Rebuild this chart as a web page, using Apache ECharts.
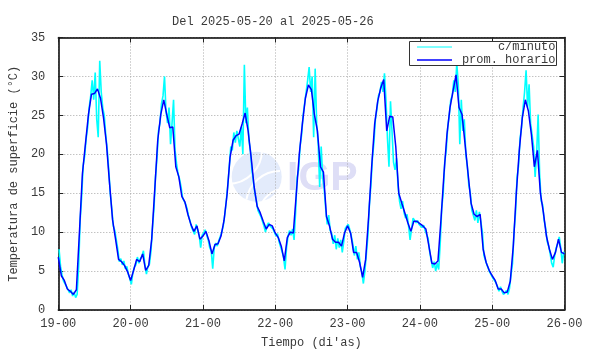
<!DOCTYPE html>
<html lang='es'>

  <head>
    <meta charset='utf-8'>
    <title>Temperatura de superficie</title>
    <style>
      html, body { margin: 0; padding: 0; background: #fff; }
    </style>
  </head>

  <body>
    <div id="main" style="width:590px;height:354px;"></div>

    <script src="https://cdn.jsdelivr.net/npm/echarts@6/dist/echarts.min.js"></script>
    <script>
      // etiquetas del eje x (cada 24 h)
      var tickLabels = ['19-00', '20-00', '21-00', '22-00', '23-00', '24-00', '25-00', '26-00'];

      // promedio horario, una lista por dia (horas 0..23)
      var prom19 = [6.8, 4.4, 3.8, 2.7, 2.4, 2.0, 2.6, 9.9, 17.5, 21.3, 25.1, 27.7, 27.8, 28.4, 27.2, 24.7, 21.3, 16.3, 11.6, 9.1, 6.5, 6.2, 5.7, 4.9];
      var prom20 = [3.8, 5.1, 6.5, 6.2, 7.2, 5.1, 5.7, 9.1, 15.4, 21.8, 25.1, 27.0, 25.1, 23.4, 23.5, 18.4, 17.1, 14.6, 13.9, 12.3, 11.0, 10.1, 10.8, 9.1];
      var prom21 = [9.5, 10.1, 8.9, 7.2, 8.4, 8.5, 9.5, 11.5, 14.8, 19.6, 21.8, 22.4, 22.6, 23.9, 25.3, 23.0, 19.6, 15.8, 13.3, 12.5, 11.4, 10.4, 11.0, 10.8];
      var prom22 = [9.9, 9.3, 8.2, 6.3, 9.3, 10.0, 9.9, 15.0, 20.1, 23.9, 27.2, 28.9, 28.3, 25.1, 23.0, 18.4, 17.7, 12.0, 10.8, 9.1, 8.7, 8.7, 8.2, 9.9];
      var prom23 = [10.8, 9.9, 7.4, 7.4, 6.1, 4.2, 6.5, 12.0, 18.4, 23.9, 26.8, 28.5, 29.6, 23.0, 24.9, 24.8, 21.0, 15.0, 13.7, 12.5, 11.2, 10.1, 11.4, 11.4];
      var prom24 = [11.1, 10.8, 10.4, 8.2, 6.0, 5.9, 6.3, 11.6, 17.5, 22.6, 26.0, 28.1, 30.2, 26.0, 25.1, 21.3, 17.5, 13.7, 12.3, 12.0, 12.3, 7.8, 6.1, 5.1];
      var prom25 = [4.4, 3.8, 2.7, 2.7, 2.2, 2.3, 3.7, 8.2, 15.0, 20.5, 24.7, 27.0, 25.6, 22.6, 18.4, 20.5, 15.0, 12.5, 9.5, 7.8, 6.5, 7.4, 9.1, 7.4];
      var promFin = 7.2; // 26-00

      // datos c/minuto, dos lecturas por hora (hh:15, hh:45)
      var min19 = [7.8, 5.6, 4.5, 3.7, 3.9, 3.0, 2.9, 2.2, 2.6, 1.8, 2.3, 1.6, 2.0, 5.5, 11.5, 14.5, 18.5, 19.8, 22.0, 23.5, 26.0, 27.5, 29.5, 27.0,
                   30.5, 24.5, 22.2, 32.0, 28.0, 26.0, 25.0, 22.5, 20.5, 18.0, 15.0, 13.0, 10.8, 10.2, 9.0, 7.8, 6.2, 6.6, 5.8, 6.3, 5.3, 5.6, 4.6, 4.0];
      var min20 = [3.3, 4.8, 5.5, 5.8, 6.8, 6.0, 6.6, 6.9, 7.6, 5.8, 4.6, 5.6, 5.9, 7.5, 10.5, 13.0, 17.0, 19.5, 23.0, 24.0, 26.5, 27.5, 30.0, 25.5,
                   24.0, 26.0, 21.3, 24.0, 27.0, 20.5, 18.8, 17.5, 16.8, 15.8, 14.4, 14.0, 13.6, 13.0, 12.0, 11.4, 10.6, 10.4, 9.7, 11.0, 10.8, 9.6, 8.0, 9.6];
      var min21 = [9.9, 10.3, 9.6, 9.0, 8.0, 7.6, 5.3, 8.0, 8.6, 8.2, 8.9, 9.0, 10.0, 10.8, 12.2, 14.0, 16.0, 18.5, 21.0, 20.5, 22.8, 21.5, 23.0, 22.0,
                   21.0, 23.5, 20.0, 31.5, 24.0, 26.0, 21.8, 20.5, 18.0, 16.5, 15.0, 14.0, 12.8, 13.0, 12.0, 11.8, 10.8, 10.0, 10.8, 11.2, 10.8, 11.0, 10.4, 10.2];
      var min22 = [9.5, 9.8, 8.8, 8.6, 7.5, 6.8, 5.2, 8.0, 9.5, 10.2, 9.6, 10.4, 9.0, 12.5, 17.0, 18.0, 21.0, 22.5, 25.0, 26.5, 28.0, 29.5, 31.2, 28.0,
                   30.0, 22.2, 31.0, 24.0, 21.3, 15.8, 21.0, 17.0, 15.5, 13.0, 11.0, 12.2, 10.2, 9.8, 8.5, 9.6, 7.8, 9.2, 8.0, 9.0, 7.4, 8.8, 10.5, 10.3];
      var min23 = [11.0, 10.3, 9.5, 8.5, 7.0, 8.2, 6.5, 7.4, 5.6, 4.8, 3.4, 5.0, 7.2, 9.5, 13.5, 16.0, 19.5, 21.5, 24.5, 25.8, 27.5, 28.0, 29.3, 28.0,
                   30.4, 27.0, 22.0, 18.4, 26.8, 23.0, 19.0, 18.0, 19.5, 16.0, 14.0, 13.0, 14.0, 12.5, 11.8, 12.3, 10.8, 9.0, 10.4, 11.8, 11.6, 11.2, 11.5, 11.0];
      var min24 = [11.0, 10.6, 10.9, 10.2, 10.0, 9.2, 7.5, 6.4, 5.4, 6.2, 5.0, 6.0, 5.2, 8.5, 13.0, 15.0, 19.0, 20.5, 23.5, 25.0, 27.0, 27.5, 29.5, 28.0,
                   31.7, 29.0, 21.3, 27.0, 23.0, 24.5, 20.0, 18.5, 16.0, 15.0, 12.8, 13.0, 11.5, 12.8, 11.2, 12.6, 12.4, 10.0, 7.0, 7.0, 5.8, 5.6, 4.8, 4.6];
      var min25 = [4.1, 3.9, 3.5, 3.0, 2.4, 3.0, 2.4, 2.0, 1.8, 2.5, 2.0, 2.8, 4.5, 6.0, 10.0, 12.5, 17.0, 18.5, 22.0, 23.5, 26.0, 28.0, 30.8, 26.0,
                   29.0, 24.0, 24.0, 21.0, 17.1, 20.0, 25.1, 17.5, 14.0, 13.5, 11.5, 10.5, 8.8, 8.2, 7.2, 6.0, 5.5, 7.0, 8.0, 8.5, 9.4, 8.0, 6.0, 7.5];

      var promDias = [prom19, prom20, prom21, prom22, prom23, prom24, prom25];
      var minDias = [min19, min20, min21, min22, min23, min24, min25];

      var promData = [];
      promDias.forEach(function(d, i) {
        d.forEach(function(v, h) { promData.push([i * 24 + h, v]); });
      });
      promData.push([168, promFin]);

      var minData = [];
      minDias.forEach(function(d, i) {
        for (var h = 0; h < 24; h++) {
          minData.push([i * 24 + h + 0.25, d[2 * h]]);
          minData.push([i * 24 + h + 0.75, d[2 * h + 1]]);
        }
      });

      var mono = 'Liberation Mono';
      var txt = '#3a3a3a';
      var frame = { show: true, onZero: false, lineStyle: { color: '#000', width: 1.5 } };
      var ticks = { show: true, inside: true, length: 5, lineStyle: { color: '#222', width: 1 } };
      var grid = { show: true, lineStyle: { type: [1, 2], color: '#a8a8a8', width: 1 } };

      var myChart = echarts.init(document.getElementById('main'));

      var option = {
        animation: false,
        backgroundColor: '#fff',
        title: {
          text: 'Del 2025-05-20 al 2025-05-26',
          left: 167,
          top: 11,
          textStyle: { fontFamily: mono, fontSize: 12, fontWeight: 'normal', color: txt }
        },
        grid: { left: 46.5, right: 25.5, top: 37.5, bottom: 40.5 },
        xAxis: [{
          type: 'value', min: 0, max: 168, interval: 24, position: 'bottom',
          axisLine: frame, axisTick: ticks, splitLine: grid,
          axisLabel: {
            color: txt, fontFamily: mono, fontSize: 12, margin: 8,
            formatter: function(v) { return tickLabels[Math.round(v / 24)]; }
          },
          name: "Tiempo (di'as)", nameLocation: 'middle', nameGap: 27,
          nameTextStyle: { color: txt, fontFamily: mono, fontSize: 12 }
        }, {
          type: 'value', min: 0, max: 168, interval: 24, position: 'top',
          axisLine: frame, axisTick: ticks, splitLine: { show: false }, axisLabel: { show: false }
        }],
        yAxis: [{
          type: 'value', min: 0, max: 35, interval: 5, position: 'left',
          axisLine: frame, axisTick: ticks, splitLine: grid,
          axisLabel: { color: txt, fontFamily: mono, fontSize: 12, margin: 13 },
          name: 'Temperatura de superficie (°C)', nameLocation: 'middle', nameGap: 31,
          nameTextStyle: { color: txt, fontFamily: mono, fontSize: 12 }
        }, {
          type: 'value', min: 0, max: 35, interval: 5, position: 'right',
          axisLine: frame, axisTick: ticks, splitLine: { show: false }, axisLabel: { show: false }
        }],
        graphic: [
          // marca de agua IGP
          { type: 'circle', z: -10, shape: { cx: 256.7, cy: 176.7, r: 25 }, style: { fill: '#e3ebfb' } },
          { type: 'arc', z: -9, shape: { cx: 280, cy: 205, r: 34, startAngle: Math.PI * 1.05, endAngle: Math.PI * 1.5 }, style: { stroke: '#fff', lineWidth: 2, fill: null } },
          { type: 'arc', z: -9, shape: { cx: 285, cy: 215, r: 26, startAngle: Math.PI * 1.05, endAngle: Math.PI * 1.5 }, style: { stroke: '#fff', lineWidth: 2, fill: null } },
          { type: 'arc', z: -9, shape: { cx: 228, cy: 150, r: 34, startAngle: 0, endAngle: Math.PI * 0.5 }, style: { stroke: '#fff', lineWidth: 2, fill: null } },
          { type: 'text', z: -10, left: 287, top: 158, style: { text: 'IGP', fill: '#dedef6', font: 'bold 41px "Liberation Sans"' } },
          // leyenda
          { type: 'rect', z: 20, shape: { x: 409.5, y: 41.5, width: 147, height: 24 }, style: { fill: '#fff', stroke: '#333', lineWidth: 1 } },
          { type: 'line', z: 21, shape: { x1: 417, y1: 47, x2: 452, y2: 47 }, style: { stroke: '#00ffff', lineWidth: 1 } },
          { type: 'line', z: 21, shape: { x1: 417, y1: 60, x2: 452, y2: 60 }, style: { stroke: '#0000ff', lineWidth: 1.5 } },
          { type: 'text', z: 21, x: 555.5, y: 47, style: { text: 'c/minuto', fill: txt, font: '12px "Liberation Mono"', textAlign: 'right', textVerticalAlign: 'middle' } },
          { type: 'text', z: 21, x: 555.5, y: 60, style: { text: 'prom. horario', fill: txt, font: '12px "Liberation Mono"', textAlign: 'right', textVerticalAlign: 'middle' } }
        ],
        series: [{
          name: 'c/minuto',
          type: 'line',
          data: minData,
          showSymbol: false,
          lineStyle: { color: '#00ffff', width: 1.6 },
          itemStyle: { color: '#00ffff' },
          z: 3
        }, {
          name: 'prom. horario',
          type: 'line',
          data: promData,
          showSymbol: false,
          lineStyle: { color: '#0000ff', width: 1.5 },
          itemStyle: { color: '#0000ff' },
          z: 4
        }]
      };

      myChart.setOption(option);
    </script>

  </body>

</html>
